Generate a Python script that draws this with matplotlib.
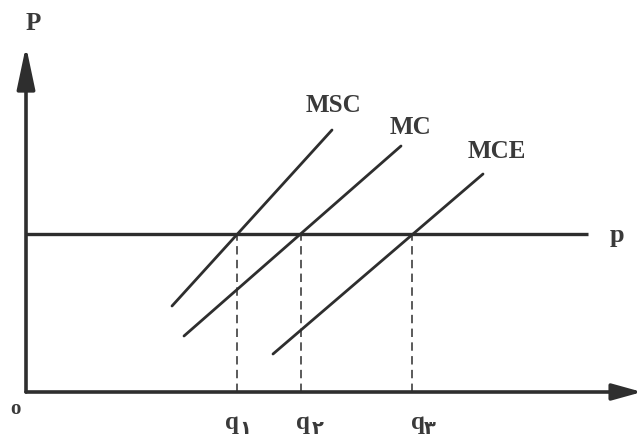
import matplotlib
matplotlib.use("Agg")
import matplotlib.pyplot as plt

# Economic diagram data (quantity, price) relative to origin o
price_level = 158
axis_q_max = 616
axis_p_max = 346
p_line_end = 562

msc_q = [146, 306]
msc_p = [86, 262]
mc_q = [158, 375]
mc_p = [56, 246]
mce_q = [247, 457]
mce_p = [38, 218]

q_points = [211, 275, 386]
q_digits = ["\u06f1", "\u06f2", "\u06f3"]
curve_labels = ["MSC", "MC", "MCE"]

fig = plt.figure(figsize=(6.42, 4.39), dpi=100)
ax = fig.add_axes([0, 0, 1, 1])
ax.set_xlim(-26, 616)
ax.set_ylim(-46, 393)
ax.axis("off")

dark = "#2e2e2e"
txt = "#3a3a3a"
serif = ["Liberation Serif", "DejaVu Serif"]

# axes with arrows
ax.annotate("", xy=(axis_q_max, 0), xytext=(0, 0),
            arrowprops=dict(arrowstyle="-|>,head_length=1.8,head_width=0.5",
                            mutation_scale=10, lw=2.6, color=dark,
                            shrinkA=0, shrinkB=0))
ax.annotate("", xy=(0, axis_p_max), xytext=(0, 0),
            arrowprops=dict(arrowstyle="-|>,head_length=2.6,head_width=0.55",
                            mutation_scale=10, lw=2.6, color=dark,
                            shrinkA=0, shrinkB=0))

# price line
ax.plot([0, p_line_end], [price_level, price_level], color=dark, lw=2.4,
        solid_capstyle="butt")

# curves
for qs, ps in [(msc_q, msc_p), (mc_q, mc_p), (mce_q, mce_p)]:
    ax.plot(qs, ps, color=dark, lw=2.0, solid_capstyle="round")

# dashed verticals
for q in q_points:
    ax.plot([q, q], [0, price_level], color=dark, lw=1.1,
            linestyle=(0, (5.5, 3.5)))

# curve labels
label_pos = [(msc_q[1], msc_p[1]), (mc_q[1], mc_p[1]), (mce_q[1], mce_p[1])]
offsets = [(1, 26), (9, 19), (14, 24)]
for name, (q, p), (dx, dy) in zip(curve_labels, label_pos, offsets):
    ax.text(q + dx, p + dy, name, fontsize=18, fontweight="bold",
            family=serif, color=txt, ha="center", va="center")

# axis labels
ax.text(7, 370, "P", fontsize=18, fontweight="bold", family=serif,
        color=txt, ha="center", va="center")
ax.text(-11, -16, "o", fontsize=15, fontweight="bold", family=serif,
        color=txt, ha="center", va="center")
ax.text(p_line_end + 29, price_level - 1, "p", fontsize=19, fontweight="bold",
        family=serif, color=txt, ha="center", va="center")

# q labels with Persian subscripts
for q, d, dx, ddx in zip(q_points, q_digits, [-5, 2, 6], [8, 17, 18]):
    ax.text(q + dx, -30, "q", fontsize=18, fontweight="bold",
            family=serif, color=txt, ha="center", va="center")
    ax.text(q + ddx, -36, d, fontsize=14, fontweight="bold",
            family=["DejaVu Sans"], color=txt, ha="center", va="center")

fig.savefig("out.png", dpi=100, facecolor="white")
